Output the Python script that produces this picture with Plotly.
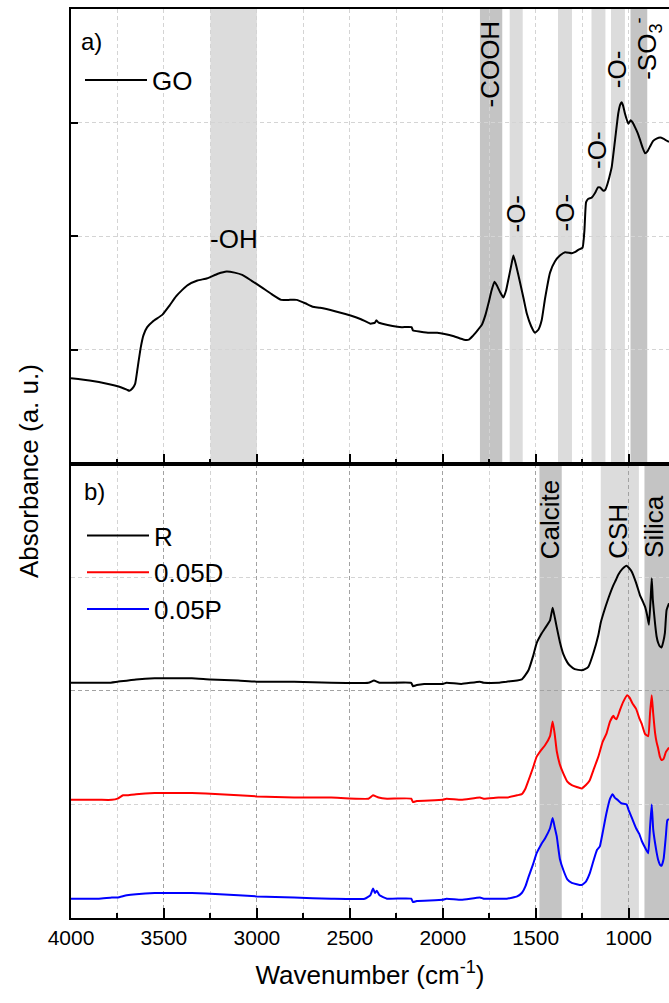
import plotly.graph_objects as go

# ---------------- data ----------------
go_wn = [4000, 3900, 3800, 3749, 3700, 3686, 3670, 3655, 3640, 3625, 3610, 3590, 3560, 3508, 3470, 3435,
         3400, 3372, 3320, 3267, 3210, 3163, 3120, 3079, 3030, 2974, 2920, 2869, 2830, 2786, 2740, 2700,
         2660, 2580, 2492, 2440, 2388, 2365, 2357, 2345, 2325, 2270, 2220, 2168, 2160, 2120, 2074, 2030,
         1990, 1940, 1886, 1860, 1840, 1814, 1790, 1770, 1754, 1738, 1722, 1710, 1692, 1674, 1660, 1647,
         1632, 1620, 1605, 1584, 1565, 1548, 1525, 1504, 1485, 1468, 1450, 1423, 1396, 1370, 1342, 1306,
         1290, 1271, 1248, 1238, 1229, 1217, 1199, 1181, 1165, 1154, 1136, 1125, 1118, 1104, 1091, 1073,
         1056, 1045, 1038, 1030, 1020, 1002, 989, 978, 966, 952, 939, 925, 912, 898, 885, 868, 850, 830,
         814, 783]
go_abs = [0.75, 0.73, 0.70, 0.68, 0.65, 0.64, 0.66, 0.70, 0.86, 1.02, 1.13, 1.20, 1.25, 1.31, 1.39, 1.47,
          1.53, 1.57, 1.61, 1.63, 1.67, 1.69, 1.68, 1.66, 1.61, 1.55, 1.49, 1.44, 1.44, 1.44, 1.41, 1.38,
          1.37, 1.34, 1.30, 1.27, 1.23, 1.24, 1.26, 1.24, 1.23, 1.21, 1.20, 1.20, 1.17, 1.16, 1.15, 1.15,
          1.14, 1.12, 1.09, 1.09, 1.12, 1.17, 1.22, 1.31, 1.41, 1.52, 1.60, 1.57, 1.51, 1.46, 1.52, 1.62,
          1.74, 1.83, 1.74, 1.59, 1.45, 1.32, 1.21, 1.15, 1.18, 1.26, 1.45, 1.68, 1.78, 1.83, 1.86, 1.85,
          1.86, 1.88, 1.90, 2.05, 2.30, 2.33, 2.34, 2.38, 2.43, 2.43, 2.40, 2.41, 2.44, 2.52, 2.61, 2.85,
          3.08, 3.16, 3.18, 3.15, 3.08, 2.99, 3.02, 3.00, 2.96, 2.91, 2.85, 2.78, 2.73, 2.75, 2.79, 2.84,
          2.86, 2.87, 2.86, 2.83]

r_wn = [4000, 3900, 3800, 3750, 3650, 3550, 3450, 3350, 3250, 3100, 3000, 2800, 2600, 2400, 2370, 2355,
        2340, 2300, 2170, 2160, 2140, 2100, 2000, 1980, 1900, 1800, 1780, 1700, 1656, 1600, 1575, 1555,
        1539, 1515, 1495, 1470, 1450, 1423, 1409, 1398, 1387, 1370, 1351, 1330, 1315, 1290, 1253, 1235,
        1217, 1190, 1163, 1150, 1136, 1110, 1082, 1070, 1056, 1035, 1011, 998, 984, 960, 939, 925, 912,
        900, 891, 882, 876, 870, 858, 850, 841, 832, 823, 814, 805, 796, 783]
r_abs = [2.07, 2.07, 2.07, 2.08, 2.10, 2.11, 2.11, 2.11, 2.10, 2.09, 2.08, 2.08, 2.07, 2.07, 2.09, 2.08,
         2.07, 2.07, 2.07, 2.04, 2.05, 2.06, 2.06, 2.07, 2.06, 2.08, 2.07, 2.07, 2.08, 2.09, 2.10, 2.14,
         2.18, 2.30, 2.42, 2.50, 2.55, 2.62, 2.73, 2.65, 2.56, 2.43, 2.32, 2.25, 2.22, 2.19, 2.18, 2.19,
         2.21, 2.33, 2.49, 2.60, 2.68, 2.81, 2.93, 2.97, 3.02, 3.07, 3.10, 3.08, 3.05, 2.95, 2.84, 2.79,
         2.74, 2.66, 2.58, 2.80, 2.99, 2.80, 2.59, 2.48, 2.42, 2.39, 2.38, 2.43, 2.51, 2.71, 2.77]

d_wn = [4000, 3850, 3780, 3750, 3720, 3700, 3650, 3550, 3450, 3350, 3200, 3000, 2800, 2600, 2400, 2375,
        2360, 2345, 2300, 2170, 2160, 2140, 2000, 1980, 1900, 1800, 1780, 1700, 1656, 1600, 1575, 1555,
        1539, 1515, 1495, 1470, 1450, 1423, 1409, 1398, 1387, 1370, 1351, 1330, 1306, 1253, 1230, 1210,
        1190, 1163, 1140, 1120, 1100, 1082, 1075, 1065, 1047, 1030, 1008, 995, 980, 960, 943, 930, 912,
        895, 885, 876, 868, 858, 850, 841, 832, 823, 812, 800, 783]
d_abs = [1.04, 1.04, 1.04, 1.05, 1.08, 1.08, 1.09, 1.10, 1.10, 1.10, 1.09, 1.07, 1.06, 1.06, 1.05, 1.08,
         1.07, 1.06, 1.05, 1.05, 1.02, 1.03, 1.04, 1.05, 1.04, 1.06, 1.05, 1.06, 1.06, 1.08, 1.09, 1.14,
         1.21, 1.32, 1.42, 1.48, 1.52, 1.60, 1.73, 1.62, 1.47, 1.35, 1.27, 1.20, 1.17, 1.14, 1.17, 1.21,
         1.30, 1.42, 1.55, 1.62, 1.73, 1.78, 1.76, 1.75, 1.83, 1.90, 1.96, 1.94, 1.89, 1.84, 1.76, 1.71,
         1.62, 1.60, 1.80, 1.96, 1.80, 1.63, 1.55, 1.49, 1.42, 1.39, 1.40, 1.46, 1.50]

p_wn = [4000, 3850, 3780, 3750, 3700, 3650, 3550, 3450, 3350, 3200, 3000, 2800, 2600, 2420, 2390, 2375,
        2365, 2355, 2340, 2300, 2170, 2160, 2140, 2000, 1980, 1900, 1800, 1780, 1700, 1656, 1600, 1575,
        1555, 1539, 1515, 1495, 1470, 1450, 1423, 1409, 1398, 1387, 1370, 1351, 1330, 1306, 1253, 1230,
        1210, 1190, 1170, 1160, 1155, 1140, 1120, 1100, 1086, 1075, 1060, 1040, 1011, 1000, 980, 960,
        943, 930, 912, 895, 885, 876, 868, 858, 850, 841, 832, 823, 812, 800, 792, 783]
p_abs = [0.17, 0.17, 0.18, 0.18, 0.20, 0.21, 0.22, 0.22, 0.22, 0.21, 0.19, 0.18, 0.17, 0.17, 0.20, 0.26,
         0.22, 0.24, 0.20, 0.17, 0.17, 0.14, 0.15, 0.16, 0.17, 0.16, 0.18, 0.17, 0.17, 0.17, 0.19, 0.22,
         0.28, 0.36, 0.47, 0.57, 0.65, 0.70, 0.79, 0.88, 0.80, 0.72, 0.52, 0.42, 0.34, 0.31, 0.29, 0.32,
         0.39, 0.50, 0.60, 0.62, 0.63, 0.75, 0.92, 1.05, 1.09, 1.06, 1.04, 1.01, 1.00, 0.95, 0.87, 0.79,
         0.74, 0.68, 0.62, 0.57, 0.80, 1.00, 0.78, 0.66, 0.58, 0.51, 0.47, 0.46, 0.52, 0.72, 0.86, 0.87]

# shaded bands (wavenumber ranges)
top_bands_light = [(3250, 3000), (1640, 1570), (1380, 1305), (1200, 1125), (1095, 1020)]
top_bands_dark = [(1800, 1680), (990, 900)]
bot_bands_light = [(1150, 945)]
bot_bands_dark = [(1480, 1360), (915, 700)]

top_labels = ["-COOH", "-O-", "-O-", "-O-", "-O-", "-SO<sub>3</sub><sup>-</sup>"]
top_label_wn = [1746, 1606, 1342, 1170, 1063, 901]
top_label_y = [3.52, 2.20, 2.21, 2.76, 3.47, 3.65]
bot_labels = ["Calcite", "CSH", "Silica"]
bot_label_wn = [1423, 1057, 864]
bot_label_y = [3.50, 3.40, 3.45]

x_ticks = [4000, 3500, 3000, 2500, 2000, 1500, 1000]

# ---------------- figure ----------------
FONT = "Arial, 'Liberation Sans', sans-serif"
DARK = "#c4c4c4"
LIGHT = "#dcdcdc"
GRID_LIGHT = "#d4d4d4"
GRID_DARK = "#a2a2a2"
PL, PR, PT, PB = 71, 669, 9, 918
W, H = 669, 1003

LINE = dict(width=2, shape="spline", smoothing=0.4)

fig = go.Figure()
fig.add_trace(go.Scatter(x=go_wn, y=go_abs, mode="lines", name="GO", showlegend=True,
                         line=dict(color="black", **LINE), xaxis="x2", yaxis="y2",
                         legend="legend"))
fig.add_trace(go.Scatter(x=r_wn, y=r_abs, mode="lines", name="R", showlegend=True,
                         line=dict(color="black", **LINE), legend="legend2"))
fig.add_trace(go.Scatter(x=d_wn, y=d_abs, mode="lines", name="0.05D", showlegend=True,
                         line=dict(color="#ff0000", **LINE), legend="legend2"))
fig.add_trace(go.Scatter(x=p_wn, y=p_abs, mode="lines", name="0.05P", showlegend=True,
                         line=dict(color="#0000ff", **LINE), legend="legend2"))

shapes = []
for (a, b) in top_bands_light:
    shapes.append(dict(type="rect", xref="x2", yref="y2 domain", x0=a, x1=b, y0=0, y1=1,
                       fillcolor=LIGHT, line_width=0, layer="below"))
for (a, b) in top_bands_dark:
    shapes.append(dict(type="rect", xref="x2", yref="y2 domain", x0=a, x1=b, y0=0, y1=1,
                       fillcolor=DARK, line_width=0, layer="below"))
for (a, b) in bot_bands_light:
    shapes.append(dict(type="rect", xref="x", yref="y domain", x0=a, x1=b, y0=0, y1=1,
                       fillcolor=LIGHT, line_width=0, layer="below"))
for (a, b) in bot_bands_dark:
    shapes.append(dict(type="rect", xref="x", yref="y domain", x0=a, x1=b, y0=0, y1=1,
                       fillcolor=DARK, line_width=0, layer="below"))

TXT = dict(size=26, family=FONT, color="black")
ann = []
for t, xw, yv in zip(top_labels, top_label_wn, top_label_y):
    ann.append(dict(text=t, x=xw, y=yv, xref="x2", yref="y2", textangle=-90, showarrow=False,
                    font=TXT))
for t, xw, yv in zip(bot_labels, bot_label_wn, bot_label_y):
    ann.append(dict(text=t, x=xw, y=yv, xref="x", yref="y", textangle=-90, showarrow=False,
                    font=TXT))
ann.append(dict(text="-OH", x=3123, y=1.98, xref="x2", yref="y2", showarrow=False, font=TXT))
ann.append(dict(text="a)", x=3890, y=3.71, xref="x2", yref="y2", showarrow=False,
                font=dict(size=24, family=FONT, color="black")))
ann.append(dict(text="b)", x=3876, y=3.75, xref="x", yref="y", showarrow=False,
                font=dict(size=24, family=FONT, color="black")))
ann.append(dict(text="Absorbance (a. u.)", xref="paper", yref="paper",
                x=(29 - PL) / (PR - PL), y=(PB - 471) / (PB - PT),
                xanchor="center", yanchor="middle",
                showarrow=False, textangle=-90, font=TXT))

common_x = dict(range=[4000, 783], tickmode="array", tickvals=x_ticks, automargin=False,
                ticks="inside", ticklen=10, tickwidth=2, tickcolor="black",
                showline=True, linecolor="black", linewidth=2, mirror=True,
                showgrid=True, griddash="4px,3px", gridwidth=1, zeroline=False,
                minor=dict(dtick=250, tick0=0, ticks="inside", ticklen=5, tickwidth=2,
                           tickcolor="black", showgrid=True, gridcolor=GRID_LIGHT,
                           griddash="4px,3px", gridwidth=1))

fig.update_layout(
    width=W, height=H, showlegend=True,
    margin=dict(l=PL, r=W - PR, t=PT, b=H - PB, autoexpand=False),
    plot_bgcolor="white", paper_bgcolor="white",
    font=dict(family=FONT, color="black", size=21),
    xaxis=dict(**common_x, anchor="y", gridcolor=GRID_DARK,
               tickfont=dict(size=21, family=FONT, color="black"),
               title=dict(text="Wavenumber (cm<sup>-1</sup>)", standoff=18, font=TXT)),
    xaxis2=dict(**common_x, anchor="y2", matches="x", showticklabels=False,
                gridcolor=GRID_LIGHT),
    yaxis=dict(domain=[0, 0.5], range=[0, 4], tickmode="linear", tick0=0, dtick=2,
               automargin=False,
               ticks="", showticklabels=False, showline=True, linecolor="black",
               linewidth=2, showgrid=True, gridcolor=GRID_DARK, griddash="4px,3px",
               zeroline=False,
               minor=dict(dtick=1, tick0=0, showgrid=True, gridcolor=GRID_LIGHT,
                          griddash="4px,3px", ticks="")),
    yaxis2=dict(domain=[0.5, 1], range=[0, 4], tickmode="linear", tick0=0, dtick=1,
                automargin=False,
                ticks="inside", ticklen=7, tickwidth=2, tickcolor="black",
                showticklabels=False, showline=True, linecolor="black", linewidth=2,
                showgrid=True, gridcolor=GRID_LIGHT, griddash="4px,3px", zeroline=False),
    legend=dict(x=(80 - PL) / (PR - PL), y=(PB - 80) / (PB - PT), xanchor="left",
                yanchor="middle", bgcolor="rgba(0,0,0,0)", itemwidth=62, visible=True,
                font=TXT),
    legend2=dict(x=(82 - PL) / (PR - PL), y=(PB - 512) / (PB - PT), xanchor="left",
                 yanchor="top", bgcolor="rgba(0,0,0,0)", itemwidth=62, tracegroupgap=0,
                 visible=True, font=TXT),
    shapes=shapes,
    annotations=ann,
)

# remove the browser's default 8px page margin so the figure sits at the page origin
fig.write_html("out.html", config={"displayModeBar": False},
               post_script="document.body.style.margin='0';document.body.style.padding='0';")
